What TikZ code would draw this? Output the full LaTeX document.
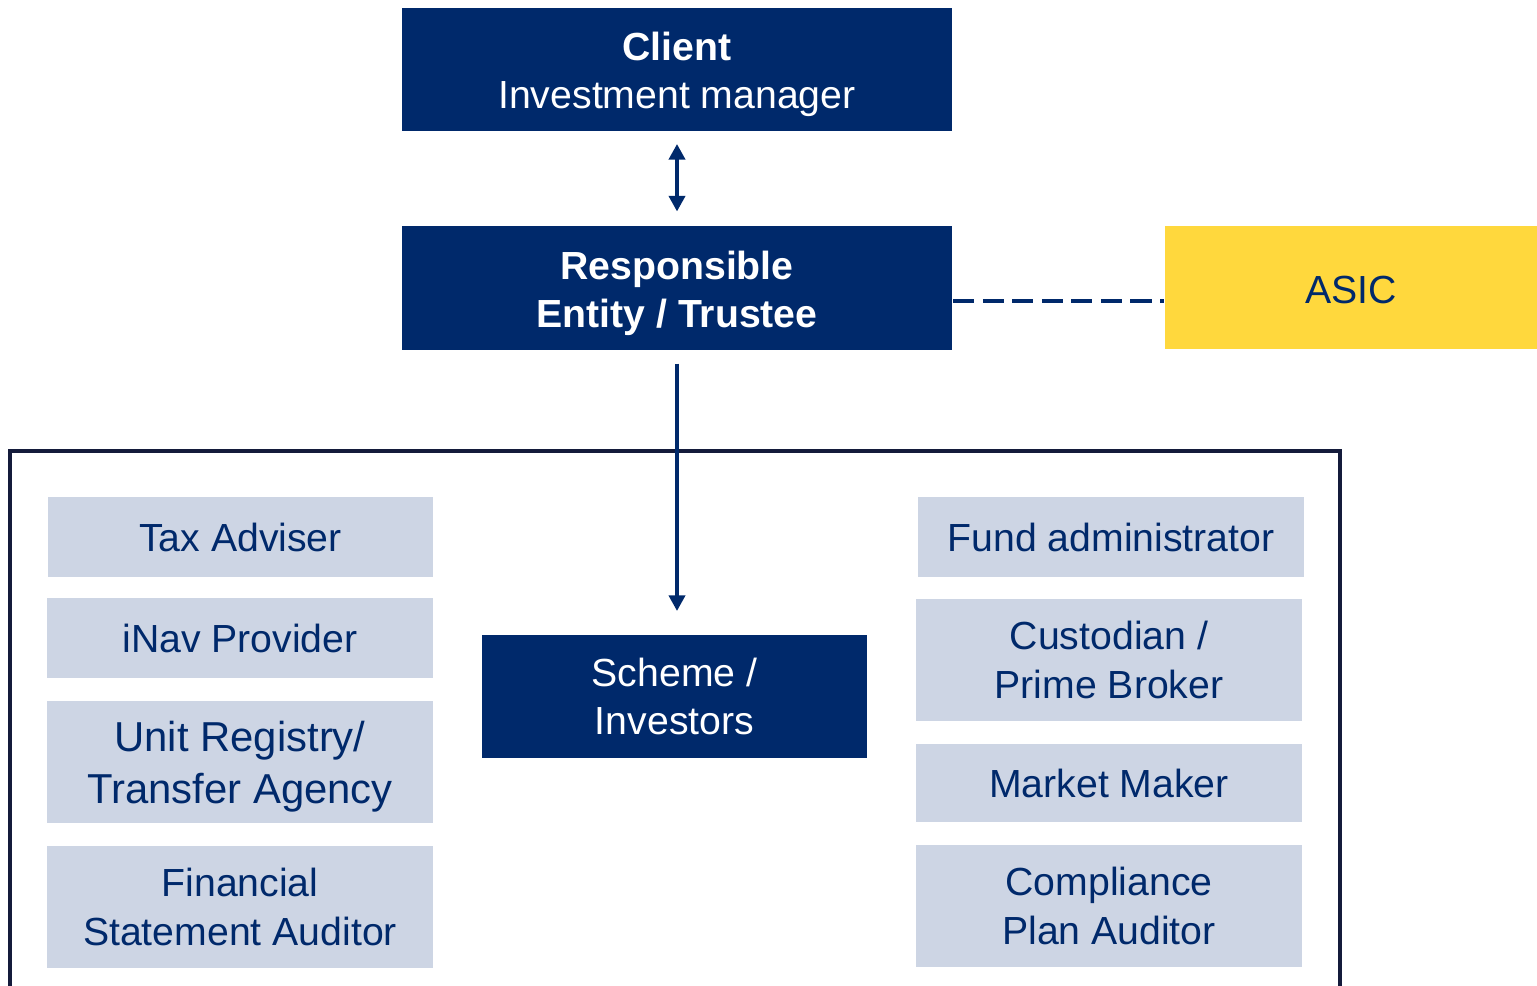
\documentclass[tikz,border=0pt]{standalone}
\usepackage{fontspec}
\setmainfont{Liberation Sans}
\usetikzlibrary{arrows.meta}

\definecolor{navy}{RGB}{0,41,107}
\definecolor{paleblue}{RGB}{205,213,228}
\definecolor{asicyellow}{RGB}{255,216,61}
\definecolor{framecol}{RGB}{20,27,59}

\newcommand{\padtop}[1]{\rule{0pt}{#1}}

\begin{document}
\begin{tikzpicture}[x=0.01cm,y=-0.01cm,semithick,
  every node/.append style={font=\fontsize{11.15}{13.7}\selectfont,align=center,inner sep=0pt},
  darkbox/.style={fill=navy,text=white,minimum height=1.23cm},
  lightbox/.style={fill=paleblue,text=navy,minimum width=3.85cm},
  link/.style={draw=navy,line width=0.9pt,-{Triangle[width=4.6pt,length=4.4pt]}}]
\useasboundingbox (0,0) rectangle (1537,986);

% frame round the service providers
\draw[framecol,line width=0.9pt] (10,990) -- (10,451) -- (1340,451) -- (1340,990);

\node (client) [darkbox,minimum width=5.5cm] at (677,69.5) {\padtop{11pt}\textbf{Client}\\Investment manager};
\node (re) [darkbox,minimum width=5.5cm,font=\bfseries\fontsize{11.15}{13.7}\selectfont] at (677,288) {\padtop{11pt}Responsible\\Entity / Trustee};
\node (asic) [fill=asicyellow,text=navy,minimum width=3.72cm,minimum height=1.23cm,text height=9.2pt,text depth=0pt] at (1351,287.5) {ASIC};
\node (scheme) [darkbox,minimum width=3.85cm] at (674.5,696.5) {Scheme /\\Investors};

% left column
\node (tax) [lightbox,minimum height=0.79cm] at (240.5,537) {Tax Adviser};
\node (inav) [lightbox,minimum height=0.79cm] at (240,638) {iNav Provider};
\node (registry) [lightbox,minimum height=1.22cm,font=\fontsize{11.9}{14.8}\selectfont] at (240,762) {\padtop{11.4pt}Unit Registry/\\Transfer Agency};
\node (fsaudit) [lightbox,minimum height=1.22cm] at (240,907) {Financial\\Statement Auditor};

% right column
\node (admin) [lightbox,minimum height=0.79cm] at (1111,537) {Fund administrator};
\node (custodian) [lightbox,minimum height=1.22cm] at (1109,660) {Custodian /\\Prime Broker};
\node (maker) [lightbox,minimum height=0.78cm] at (1109,783) {Market Maker};
\node (cpaudit) [lightbox,minimum height=1.22cm] at (1109,906) {Compliance\\Plan Auditor};

\draw[link,{Triangle[width=4.6pt,length=4.4pt]}-{Triangle[width=4.6pt,length=4.4pt]},shorten <=0.12cm,shorten >=0.14cm] (client) -- (re);
\draw[link,shorten <=0.13cm,shorten >=0.23cm] (re.south) -- (re.south |- scheme.north);
\draw[navy,line width=0.9pt,dash pattern=on 6pt off 2.4pt] ([yshift=-0.13cm]re.east) -- ([yshift=-0.13cm]re.east -| asic.west);

\end{tikzpicture}
\end{document}
